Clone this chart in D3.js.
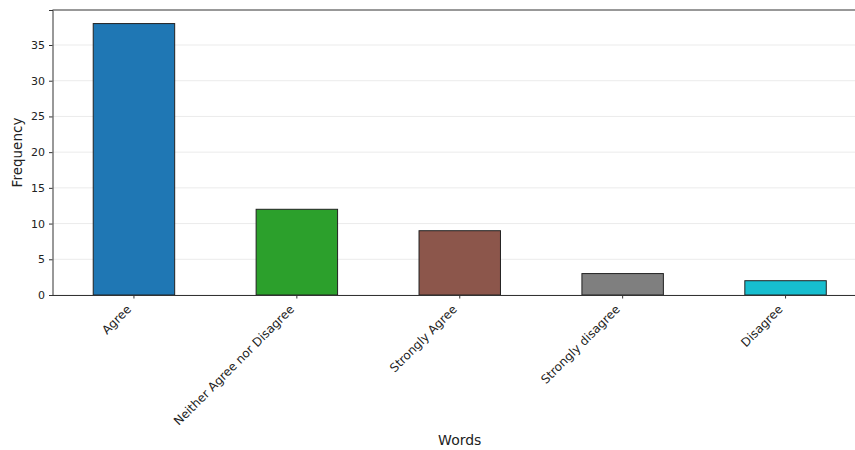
<!DOCTYPE html>
<html><head><meta charset="utf-8">
<script src="https://cdn.jsdelivr.net/npm/d3@7"></script>
<style>body{margin:0;background:#fff}svg{display:block}text{font-family:"DejaVu Sans",sans-serif}</style>
</head><body><svg id="c" width="855" height="450"></svg>
<script>
const categories = ["Agree","Neither Agree nor Disagree","Strongly Agree","Strongly disagree","Disagree"];
const values = [38,12,9,3,2];
const colors = ["#1f77b4","#2ca02c","#8c564b","#7f7f7f","#17becf"];
const yTicks = [0,5,10,15,20,25,30,35];

const svg = d3.select("#c");
const L = 52.5, R = 867, T = 10, B = 295;
const x = d3.scaleBand().domain(categories).range([L,R]).paddingInner(0.5).paddingOuter(0.25);
const y = d3.scaleLinear().domain([0, 39.9]).range([B,T]);

// grid
svg.append("g").selectAll("line").data(yTicks).join("line")
  .attr("x1",L).attr("x2",R).attr("y1",d=>y(d)).attr("y2",d=>y(d))
  .attr("stroke","#ebebeb").attr("stroke-width",1);

// bars
svg.append("g").selectAll("rect").data(values).join("rect")
  .attr("x",(d,i)=>x(categories[i])).attr("width",x.bandwidth())
  .attr("y",d=>y(d)).attr("height",d=>B-y(d))
  .attr("fill",(d,i)=>colors[i]).attr("stroke","#222").attr("stroke-width",1);

// y axis
const ya = svg.append("g").attr("transform",`translate(${L},0)`)
  .call(d3.axisLeft(y).tickValues(yTicks).tickSize(3.5).tickPadding(4));
ya.select(".domain").attr("stroke","#333");
ya.selectAll("line").attr("stroke","#333");
ya.selectAll("text").attr("font-size",11).attr("fill","#222");

// x axis
const xa = svg.append("g").attr("transform",`translate(0,${B})`)
  .call(d3.axisBottom(x).tickSize(3.5).tickSizeOuter(0));
xa.select(".domain").attr("stroke","#333");
xa.selectAll("line").attr("stroke","#333");
xa.selectAll("text").attr("font-size",12).attr("fill","#222")
  .attr("text-anchor","end").attr("dy",null).attr("y",0)
  .attr("transform","translate(-2,15) rotate(-45)");

// top spine
svg.append("line").attr("x1",L).attr("x2",R).attr("y1",T).attr("y2",T).attr("stroke","#333");

svg.append("text").attr("x",(L+R)/2).attr("y",445).attr("text-anchor","middle")
  .attr("font-size",14).attr("fill","#222").text("Words");
svg.append("text").attr("transform",`translate(22,${(T+B)/2}) rotate(-90)`).attr("text-anchor","middle")
  .attr("font-size",13.5).attr("fill","#222").text("Frequency");
</script></body></html>
